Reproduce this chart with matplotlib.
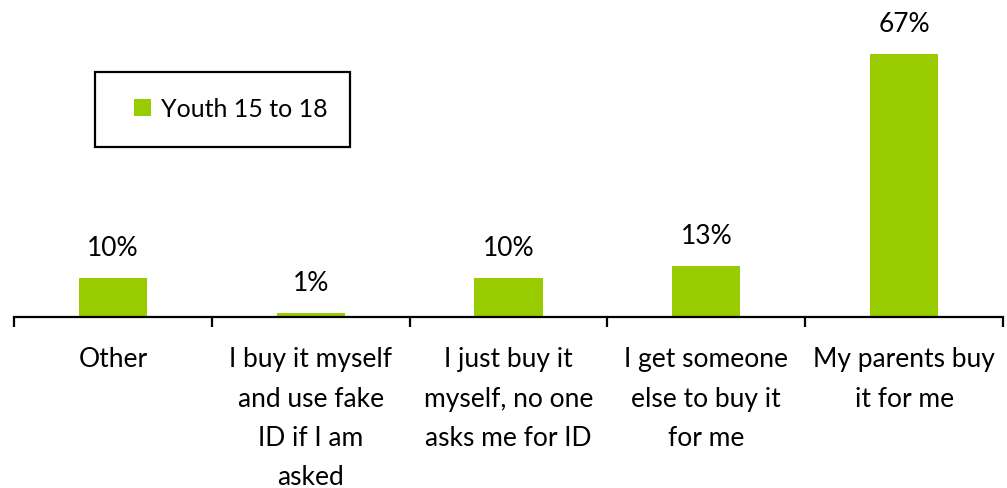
import matplotlib
matplotlib.use("Agg")
import matplotlib.pyplot as plt
from matplotlib.ticker import FixedLocator
from matplotlib.patches import Rectangle

categories = ["Other", "I buy it myself\nand use fake\nID if I am\nasked",
              "I just buy it\nmyself, no one\nasks me for ID",
              "I get someone\nelse to buy it\nfor me", "My parents buy\nit for me"]
values = [10, 1, 10, 13, 67]
series_name = "Youth 15 to 18"
bar_color = "#99CC00"

plt.rcParams['font.family'] = ['Lato', 'DejaVu Sans']

W, H = 1007, 489
fig = plt.figure(figsize=(W/100, H/100), dpi=100)
left, right = 14/W, 1003/W
bottom = (H-318)/H
ax = fig.add_axes([left, bottom, right-left, 314/H])

x = list(range(len(categories)))
bars = ax.bar(x, values, width=0.345, color=bar_color, label=series_name, zorder=2)
for xi, v in zip(x, values):
    ax.annotate(f"{v}%", (xi, v), xytext=(0, 13), textcoords="offset points",
                ha="center", va="bottom", fontsize=19)

ax.set_xlim(-0.5, len(categories)-0.5)
ax.set_ylim(0, 80)
ax.set_xticks(x)
ax.set_xticklabels(categories, fontsize=19, linespacing=1.72)
ax.xaxis.set_minor_locator(FixedLocator([i-0.5 for i in range(len(categories)+1)]))
ax.tick_params(axis='x', which='major', length=0, pad=21)
ax.tick_params(axis='x', which='minor', length=7, width=1.6, direction='out')
ax.set_yticks([])
for s in ['top', 'right', 'left']:
    ax.spines[s].set_visible(False)
ax.spines['bottom'].set_linewidth(1.6)

# legend content
leg = ax.legend(loc='center left', bbox_to_anchor=(134/W, 1-110/H), bbox_transform=fig.transFigure,
                fontsize=18, frameon=False,
                handlelength=0.68, handleheight=0.68, handletextpad=0.4,
                borderpad=0, borderaxespad=0)
# legend frame
fig.patches.append(Rectangle((95/W, 1-148/H), 255/W, 75/H, transform=fig.transFigure,
                             fill=False, edgecolor='black', linewidth=1.6, zorder=5))

fig.savefig("out.png", dpi=100)
